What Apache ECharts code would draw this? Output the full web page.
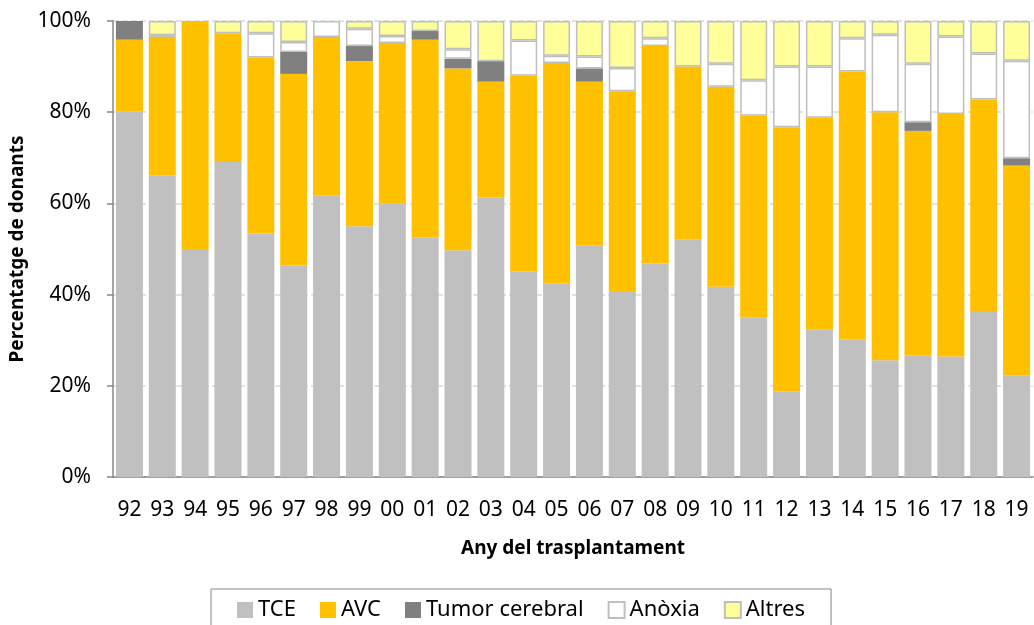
<!DOCTYPE html>
<html>
<head>
<meta charset="utf-8">
<script src="https://cdn.jsdelivr.net/npm/echarts@6.0.0/dist/echarts.min.js"></script>
<style>
    html, body { margin: 0; padding: 0; background: #fff; }
    #chart { width: 1034px; height: 625px; }
</style>
</head>
<body>
<div id="chart"></div>
<script>
// anys del trasplantament
var years = ["92", "93", "94", "95", "96", "97", "98", "99", "00", "01", "02", "03", "04", "05",
             "06", "07", "08", "09", "10", "11", "12", "13", "14", "15", "16", "17", "18", "19"];

// percentatge de donants per causa de mort
var tce = [80.2, 66.2, 50.0, 69.1, 53.4, 46.4, 61.8, 55.0, 59.9, 52.5, 49.7, 61.3, 45.0, 42.4,
           50.8, 40.8, 46.8, 52.1, 41.7, 34.9, 18.7, 32.4, 30.1, 25.6, 26.7, 26.4, 36.4, 22.3];
var avc = [15.7, 30.3, 50.0, 28.2, 38.6, 42.0, 34.7, 36.2, 35.3, 43.4, 39.9, 25.4, 43.0, 48.4,
           35.9, 43.8, 47.7, 37.9, 43.9, 44.3, 58.0, 46.4, 58.8, 54.4, 49.2, 53.2, 46.4, 46.0];
var tumor = [4.1, 0, 0, 0, 0, 4.8, 0, 3.3, 0, 1.9, 2.1, 4.5, 0, 0,
             2.9, 0, 0, 0, 0, 0, 0, 0, 0, 0, 1.9, 0, 0, 1.6];
var anoxia = [0, 0.4, 0, 0, 5.3, 2.2, 3.5, 3.8, 1.5, 0, 2.1, 0, 7.7, 1.6,
              2.6, 5.1, 1.7, 0, 5.0, 7.8, 13.3, 11.2, 7.3, 17.0, 12.8, 17.0, 10.1, 21.4];
var altres = [0, 3.1, 0, 2.7, 2.7, 4.6, 0, 1.7, 3.3, 2.2, 6.2, 8.8, 4.3, 7.6,
              7.8, 10.3, 3.8, 10.0, 9.4, 13.0, 10.0, 10.0, 3.8, 3.0, 9.4, 3.4, 7.1, 8.7];

// eixos
var yTicks = [0, 20, 40, 60, 80, 100];

var font = "Noto Sans";

// zeros -> buit, perque no es dibuixi la vora
function clean(arr) {
    return arr.map(function(v) {
        return v > 0 ? v : "-";
    });
}

function makeSeries(name, data, color, border) {
    return {
        name: name,
        type: "bar",
        stack: "total",
        barWidth: 27,
        data: clean(data),
        itemStyle: {
            color: color,
            borderColor: border ? "#bfbfbf" : color,
            borderWidth: border ? 1.5 : 0
        },
        emphasis: { disabled: true }
    };
}

var myChart = echarts.init(document.getElementById("chart"));

var option = {
    animation: false,
    textStyle: { fontFamily: font },
    grid: {
        left: 113,
        right: 1,
        top: 21,
        bottom: 148,
        outerBoundsMode: "none"
    },
    legend: {
        left: 211,
        top: 589,
        padding: [10, 26, 20, 26],
        borderColor: "#868686",
        borderWidth: 1,
        itemGap: 24,
        itemWidth: 16,
        itemHeight: 16,
        icon: "rect",
        textStyle: { fontFamily: font, fontSize: 22, color: "#000" },
        data: ["TCE", "AVC", "Tumor cerebral", "Anòxia", "Altres"]
    },
    xAxis: {
        type: "category",
        data: years,
        name: "Any del trasplantament",
        nameLocation: "middle",
        nameGap: 62,
        nameTextStyle: { fontFamily: font, fontSize: 19, fontWeight: "bold", color: "#000" },
        axisLine: { lineStyle: { color: "#868686", width: 1.5 } },
        axisTick: { length: 7, lineStyle: { color: "#868686", width: 1.5 } },
        axisLabel: { fontFamily: font, fontSize: 21, color: "#000", margin: 23 }
    },
    yAxis: {
        type: "value",
        min: yTicks[0],
        max: yTicks[yTicks.length - 1],
        interval: yTicks[1] - yTicks[0],
        name: "Percentatge de donants",
        nameLocation: "middle",
        nameGap: 82,
        nameTextStyle: { fontFamily: font, fontSize: 19, fontWeight: "bold", color: "#000" },
        axisLine: { show: true, lineStyle: { color: "#868686", width: 1.5 } },
        axisTick: { show: true, length: 6, lineStyle: { color: "#868686", width: 1.5 } },
        axisLabel: {
            fontFamily: font,
            fontSize: 21,
            color: "#000",
            margin: 22,
            formatter: "{value}%"
        },
        splitLine: { lineStyle: { color: "#d9d9d9", width: 1.5, type: "dashed" } }
    },
    series: [
        makeSeries("TCE", tce, "#c0c0c0", false),
        makeSeries("AVC", avc, "#ffc000", false),
        makeSeries("Tumor cerebral", tumor, "#808080", false),
        makeSeries("Anòxia", anoxia, "#ffffff", true),
        makeSeries("Altres", altres, "#ffff99", true)
    ]
};

myChart.setOption(option);
</script>
</body>
</html>
